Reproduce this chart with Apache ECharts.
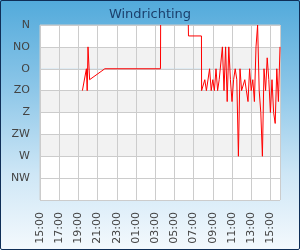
<!DOCTYPE html>
<html>
<head>
<meta charset="utf-8">
<script src="https://cdn.jsdelivr.net/npm/echarts@6/dist/echarts.min.js"></script>
<style>
  html, body { margin: 0; padding: 0; }
  #wrap {
    position: relative;
    width: 300px;
    height: 250px;
    background: linear-gradient(to bottom, #52aadb 0%, #8cc6e8 35%, #cfe7f6 70%, #f4f9fd 100%);
  }
  #chart { position: absolute; left: 0; top: 0; width: 300px; height: 250px; }
  #frame {
    position: absolute; left: 0; top: 0; right: 0; bottom: 0;
    border: 1px solid #0f2e57;
    border-radius: 2px;
    pointer-events: none;
  }
</style>
</head>
<body>
<div id="wrap">
  <div id="chart"></div>
  <div id="frame"></div>
</div>
<script>
// tijden (HH:MM), loopt van 15:00 tot 16:00 de volgende dag
const times = [
  "19:25", "19:50", "19:55", "20:00", "20:10", "21:45",
  "03:33", "03:34", "03:40",
  "06:27", "06:28", "07:49",
  "07:50", "08:00", "08:10", "08:20", "08:30", "08:40", "08:50",
  "09:00", "09:10", "09:20", "09:30", "09:40", "09:50",
  "10:00", "10:10", "10:20", "10:30", "10:40", "10:50",
  "11:00", "11:10", "11:20", "11:30", "11:40", "11:50",
  "12:00", "12:10", "12:20", "12:30", "12:40", "12:50",
  "13:00", "13:10", "13:20", "13:30", "13:40", "13:50",
  "14:00", "14:10", "14:20", "14:30", "14:40", "14:50",
  "15:00", "15:10", "15:20", "15:30", "15:40", "15:50", "16:00"
];
// windrichting in graden (null = geen data)
const directions = [
  135, 90, 135, 45, 112.5, 90,
  90, 0, null,
  0, 22.5, 22.5,
  135, 135, 112.5, 135, 135, 90, 135,
  112.5, 135, 90, 135, 112.5, 112.5,
  45, 135, 45, 157.5, 45, 112.5,
  157.5, 112.5, 90, 112.5, 270, 90,
  135, 135, 112.5, 135, 157.5, 90,
  135, 112.5, 157.5, 45, 0, 135,
  180, 270, 90, 135, 67.5, 112.5,
  180, 112.5, 180, 202.5, 90, 157.5, 45
];
const dirLabels = ["N", "NO", "O", "ZO", "Z", "ZW", "W", "NW", ""];
const startHour = 15;

// uren sinds 15:00 (met dagwissel)
let data = [];
let dayAdd = 0, prevRaw = -1;
for (let i = 0; i < times.length; i++) {
  let parts = times[i].split(":");
  let raw = Number(parts[0]) + Number(parts[1]) / 60;
  if (raw < prevRaw) dayAdd += 24;
  prevRaw = raw;
  data.push([raw + dayAdd - startHour, directions[i]]);
}

let chart = echarts.init(document.getElementById("chart"));
chart.setOption({
  animation: false,
  textStyle: { fontFamily: "DejaVu Sans" },
  title: {
    text: "Windrichting",
    left: "center",
    top: 3,
    textStyle: { color: "#1b3f6c", fontSize: 13, fontWeight: "normal", fontFamily: "DejaVu Sans" },
  },
  grid: {
    left: 40, right: 20, top: 25, bottom: 50,
    show: true, borderColor: "#cccccc", borderWidth: 1,
  },
  xAxis: {
    type: "value",
    min: 0, max: 25, interval: 2,
    axisLine: { show: false },
    axisTick: { show: false },
    splitLine: { lineStyle: { color: "#cccccc" } },
    axisLabel: {
      rotate: 90,
      margin: 12,
      color: "#444444",
      fontSize: 11,
      showMaxLabel: false,
      formatter: function (v) {
        let h = (v + startHour) % 24;
        return (h < 10 ? "0" : "") + h + ":00";
      },
    },
  },
  yAxis: {
    type: "value",
    min: 0, max: 360, interval: 45,
    inverse: true,
    axisLine: { show: false },
    axisTick: { show: false },
    splitLine: { lineStyle: { color: "#cccccc" } },
    splitArea: {
      show: true,
      areaStyle: { color: ["#ffffff", "#f2f2f2", "#ffffff", "#f2f2f2", "#ffffff", "#f2f2f2", "#ffffff", "#ffffff"] },
    },
    axisLabel: {
      margin: 10,
      color: "#444444",
      fontSize: 11,
      formatter: function (v) {
        return dirLabels[Math.round(v / 45)];
      },
    },
  },
  series: [
    {
      type: "line",
      data: data,
      showSymbol: false,
      connectNulls: false,
      lineStyle: { color: "#ff0000", width: 1 },
    },
  ],
});
</script>
</body>
</html>
